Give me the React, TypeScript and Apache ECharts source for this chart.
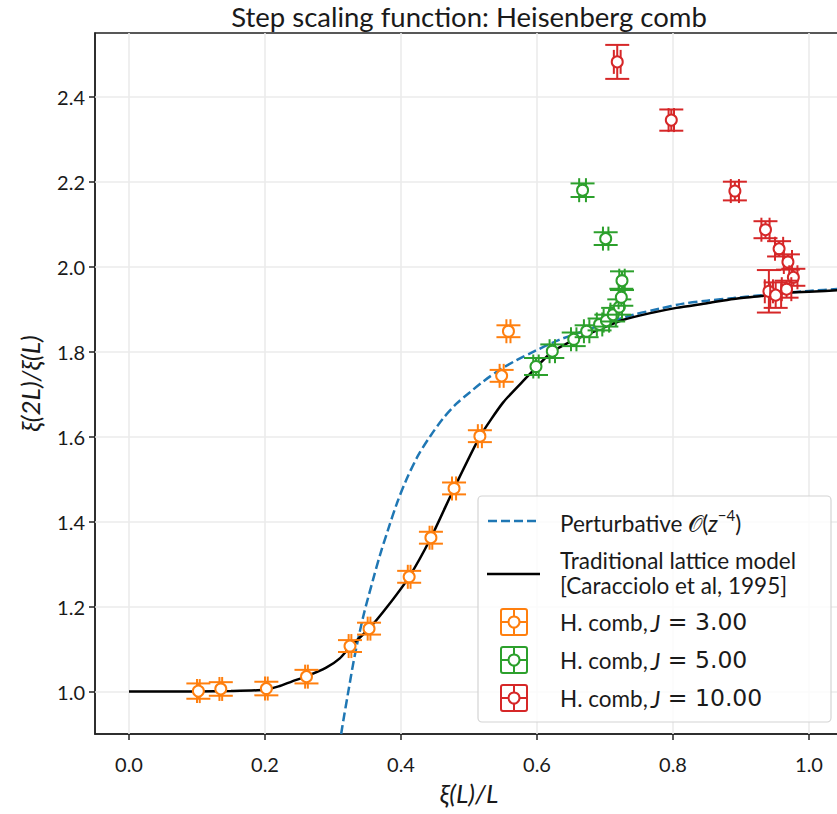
import React, { useEffect, useRef } from 'react';
import * as echarts from 'echarts';

// Tick positions
const xTicks = [0.0, 0.2, 0.4, 0.6, 0.8, 1.0];
const yTicks = [1.0, 1.2, 1.4, 1.6, 1.8, 2.0, 2.2, 2.4];

// Perturbative O(z^-4) curve
const pertX = [0.312, 0.315, 0.322, 0.332, 0.345, 0.359, 0.370, 0.381, 0.394, 0.408, 0.425, 0.443, 0.462, 0.482, 0.501, 0.521, 0.546, 0.570, 0.595, 0.630, 0.668, 0.705, 0.742, 0.780, 0.815, 0.850, 0.889, 0.925, 0.962, 1.000, 1.050];
const pertY = [0.900, 0.930, 0.995, 1.085, 1.180, 1.264, 1.326, 1.381, 1.443, 1.499, 1.555, 1.601, 1.643, 1.678, 1.704, 1.730, 1.758, 1.780, 1.800, 1.826, 1.848, 1.869, 1.887, 1.901, 1.913, 1.920, 1.926, 1.932, 1.938, 1.943, 1.948];

// Traditional lattice model curve
const latticeX = [0.0, 0.10, 0.15, 0.20, 0.22, 0.24, 0.26, 0.29, 0.31, 0.325, 0.353, 0.38, 0.412, 0.444, 0.478, 0.516, 0.55, 0.585, 0.60, 0.62, 0.645, 0.673, 0.70, 0.727, 0.765, 0.805, 0.85, 0.889, 0.93, 0.962, 1.0, 1.05];
const latticeY = [1.000, 1.000, 1.001, 1.004, 1.012, 1.024, 1.035, 1.056, 1.078, 1.105, 1.148, 1.200, 1.270, 1.362, 1.478, 1.600, 1.680, 1.740, 1.765, 1.797, 1.820, 1.840, 1.858, 1.875, 1.890, 1.903, 1.914, 1.924, 1.931, 1.938, 1.941, 1.945];

// H. comb data: [x, xErr, y, yErr]
const combJ3 = [
  [0.102, 0.002, 1.001, 0.018],
  [0.135, 0.002, 1.006, 0.016],
  [0.202, 0.002, 1.007, 0.016],
  [0.261, 0.002, 1.035, 0.016],
  [0.325, 0.002, 1.107, 0.014],
  [0.353, 0.002, 1.148, 0.014],
  [0.412, 0.002, 1.270, 0.014],
  [0.444, 0.002, 1.362, 0.014],
  [0.478, 0.003, 1.478, 0.014],
  [0.516, 0.003, 1.601, 0.014],
  [0.548, 0.003, 1.743, 0.014],
  [0.558, 0.003, 1.848, 0.014],
];
const combJ5 = [
  [0.5985, 0.004, 1.765, 0.020],
  [0.6225, 0.004, 1.801, 0.016],
  [0.654, 0.004, 1.829, 0.016],
  [0.667, 0.005, 2.180, 0.016],
  [0.673, 0.004, 1.848, 0.014],
  [0.692, 0.004, 1.864, 0.014],
  [0.701, 0.004, 2.066, 0.015],
  [0.702, 0.004, 1.873, 0.014],
  [0.712, 0.004, 1.887, 0.016],
  [0.721, 0.004, 1.905, 0.018],
  [0.724, 0.004, 1.928, 0.020],
  [0.725, 0.004, 1.967, 0.022],
];
const combJ10 = [
  [0.718, 0.005, 2.482, 0.040],
  [0.7975, 0.004, 2.345, 0.025],
  [0.891, 0.006, 2.178, 0.022],
  [0.936, 0.006, 2.087, 0.020],
  [0.956, 0.006, 2.042, 0.018],
  [0.969, 0.006, 2.011, 0.018],
  [0.977, 0.006, 1.975, 0.020],
  [0.967, 0.007, 1.947, 0.020],
  [0.941, 0.006, 1.942, 0.050],
  [0.951, 0.008, 1.933, 0.030],
];

const BLUE = '#1f77b4';
const ORANGE = '#ff7f0e';
const GREEN = '#2ca02c';
const RED = '#d62728';
const FONT = 'Lato';
const TXT = '#1a1a1a';
const CAP = 12;

function errorSeries(name: string, data: number[][], color: string) {
  return {
    type: 'custom',
    name,
    data,
    z: 10,
    encode: { x: 0, y: 2 },
    renderItem: (_params: any, api: any) => {
      const x = api.value(0), dx = api.value(1), y = api.value(2), dy = api.value(3);
      const c = api.coord([x, y]);
      const l = api.coord([x - dx, y]);
      const r = api.coord([x + dx, y]);
      const t = api.coord([x, y + dy]);
      const b = api.coord([x, y - dy]);
      const ls = { stroke: color, lineWidth: 2 };
      const seg = (x1: number, y1: number, x2: number, y2: number) => ({ type: 'line', shape: { x1, y1, x2, y2 }, style: ls });
      return {
        type: 'group',
        children: [
          seg(c[0], t[1], c[0], b[1]),
          seg(l[0], c[1], r[0], c[1]),
          seg(c[0] - CAP, t[1], c[0] + CAP, t[1]),
          seg(c[0] - CAP, b[1], c[0] + CAP, b[1]),
          seg(l[0], c[1] - CAP, l[0], c[1] + CAP),
          seg(r[0], c[1] - CAP, r[0], c[1] + CAP),
          { type: 'circle', shape: { cx: c[0], cy: c[1], r: 5.5 }, style: { fill: '#fff', stroke: color, lineWidth: 2 } },
        ],
      };
    },
  };
}

function legendIcon(cx: number, cy: number, color: string) {
  const h = 13;
  const ls = { stroke: color, lineWidth: 2 };
  return [
    { type: 'rect', shape: { x: cx - h, y: cy - h, width: 2 * h, height: 2 * h, r: 2 }, style: { fill: 'none', stroke: color, lineWidth: 2 }, z: 101 },
    { type: 'line', shape: { x1: cx - h, y1: cy, x2: cx + h, y2: cy }, style: ls, z: 101 },
    { type: 'line', shape: { x1: cx, y1: cy - h, x2: cx, y2: cy + h }, style: ls, z: 101 },
    { type: 'circle', shape: { cx, cy, r: 5.5 }, style: { fill: '#fff', stroke: color, lineWidth: 2 }, z: 102 },
  ];
}

function combText(y: number, value: string) {
  return {
    type: 'text',
    x: 560,
    y,
    z: 101,
    style: {
      text: `{a|H. comb,}{j|J}{b| = ${value}}`,
      verticalAlign: 'middle',
      rich: {
        a: { fontFamily: FONT, fontSize: 22.5, fill: TXT },
        j: { fontFamily: FONT, fontStyle: 'italic', fontSize: 24, fill: TXT, padding: [0, 0, 0, 3] },
        b: { fontFamily: 'DejaVu Sans', fontSize: 23.5, fill: TXT },
      },
    },
  };
}

export default function App() {
  const ref = useRef<HTMLDivElement>(null);
  useEffect(() => {
    if (!ref.current) return;
    const chart = echarts.init(ref.current, undefined, { renderer: 'svg' });
    const option: any = {
      animation: false,
      backgroundColor: '#fff',
      grid: { left: 95, top: 33, right: -6, bottom: 80, show: true, borderColor: '#222', borderWidth: 1.5, backgroundColor: '#fff', outerBoundsMode: 'none', containLabel: false },
      xAxis: {
        type: 'value',
        min: -0.05,
        max: 1.05,
        splitLine: { show: false },
        axisLine: { show: true, onZero: false, lineStyle: { color: '#222', width: 1.5 } },
        axisTick: { show: true, customValues: xTicks, length: 6, lineStyle: { color: '#222', width: 1.5 } },
        axisLabel: { customValues: xTicks, formatter: (v: number) => v.toFixed(1), fontSize: 20, color: TXT, margin: 20, fontFamily: FONT },
        name: 'ξ(L)/L',
        nameLocation: 'middle',
        nameGap: 46,
        nameTextStyle: { fontSize: 26, fontStyle: 'italic', fontFamily: FONT, color: TXT },
      },
      yAxis: {
        type: 'value',
        min: 0.9,
        max: 2.55,
        splitLine: { show: false },
        axisLine: { show: true, onZero: false, lineStyle: { color: '#222', width: 1.5 } },
        axisTick: { show: true, customValues: yTicks, length: 6, lineStyle: { color: '#222', width: 1.5 } },
        axisLabel: { customValues: yTicks, formatter: (v: number) => v.toFixed(1), fontSize: 20, color: TXT, margin: 10, fontFamily: FONT },
        name: 'ξ(2L)/ξ(L)',
        nameLocation: 'middle',
        nameGap: 52,
        nameTextStyle: { fontSize: 26, fontStyle: 'italic', fontFamily: FONT, color: TXT },
      },
      graphic: [
        { type: 'text', x: 469, y: 16, style: { text: 'Step scaling function: Heisenberg comb', fontFamily: FONT, fontSize: 27.5, fill: TXT, align: 'center', verticalAlign: 'middle' } },
        { type: 'rect', shape: { x: 478, y: 496, width: 353, height: 226, r: 4 }, style: { fill: 'rgba(255,255,255,0.8)', stroke: '#d4d4d4', lineWidth: 1.2 }, z: 100 },
        { type: 'line', shape: { x1: 488, y1: 521, x2: 540, y2: 521 }, style: { stroke: BLUE, lineWidth: 2.5, lineDash: [9, 4] }, z: 101 },
        {
          type: 'text', x: 560, y: 521, z: 101,
          style: {
            text: '{n|Perturbative }{n|𝒪(}{i|z}{s|−4}{n|)}',
            verticalAlign: 'middle',
            rich: {
              n: { fontFamily: FONT, fontSize: 22.5, fill: TXT, lineHeight: 28, verticalAlign: 'bottom' },
              i: { fontFamily: FONT, fontStyle: 'italic', fontSize: 22.5, fill: TXT, lineHeight: 28, verticalAlign: 'bottom' },
              s: { fontFamily: FONT, fontSize: 15, fill: TXT, lineHeight: 28, verticalAlign: 'top' },
            },
          },
        },
        { type: 'line', shape: { x1: 487, y1: 574, x2: 540, y2: 574 }, style: { stroke: '#000', lineWidth: 2.5 }, z: 101 },
        { type: 'text', x: 560, y: 560, z: 101, style: { text: 'Traditional lattice model', fontFamily: FONT, fontSize: 22.5, fill: TXT, verticalAlign: 'middle' } },
        { type: 'text', x: 560, y: 585, z: 101, style: { text: '[Caracciolo et al, 1995]', fontFamily: FONT, fontSize: 22.5, fill: TXT, verticalAlign: 'middle' } },
        ...legendIcon(514, 622, ORANGE),
        ...legendIcon(514, 660, GREEN),
        ...legendIcon(514, 698, RED),
        combText(622, '3.00'),
        combText(660, '5.00'),
        combText(698, '10.00'),
      ],
      series: [
        {
          type: 'line',
          data: [],
          silent: true,
          z: 1,
          markLine: {
            silent: true,
            symbol: ['none', 'none'],
            label: { show: false },
            lineStyle: { color: '#ebebeb', width: 1.6, type: 'solid' },
            data: [...xTicks.map((v) => ({ xAxis: v })), ...yTicks.map((v) => ({ yAxis: v }))],
          },
        },
        {
          type: 'line',
          name: 'Perturbative',
          data: pertX.map((x, i) => [x, pertY[i]]),
          showSymbol: false,
          smooth: 0.3,
          z: 5,
          lineStyle: { color: BLUE, width: 2.5, type: [9, 4] },
        },
        {
          type: 'line',
          name: 'Traditional lattice model',
          data: latticeX.map((x, i) => [x, latticeY[i]]),
          showSymbol: false,
          smooth: 0.2,
          z: 6,
          lineStyle: { color: '#000', width: 2.5 },
        },
        errorSeries('J=3', combJ3, ORANGE),
        errorSeries('J=5', combJ5, GREEN),
        errorSeries('J=10', combJ10, RED),
      ],
    };
    chart.setOption(option);
    return () => chart.dispose();
  }, []);
  return <div ref={ref} style={{ position: 'absolute', left: 0, top: 0, width: 837, height: 814 }} />;
}
